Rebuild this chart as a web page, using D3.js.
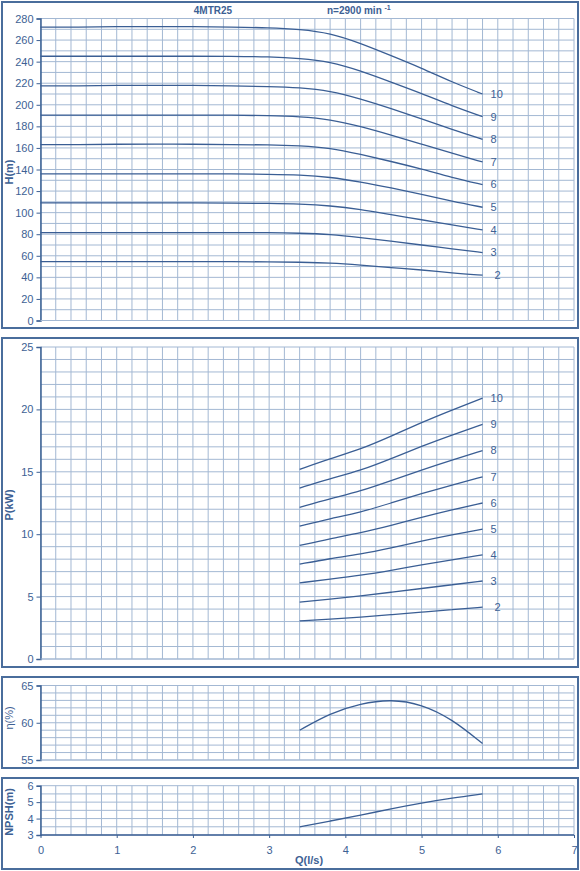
<!DOCTYPE html>
<html>
<head>
<meta charset="utf-8">
<script src="https://d3js.org/d3.v7.min.js"></script>
<style>
  body { margin: 0; background: #fff; }
  svg text { font-family: "Liberation Sans", Arial, sans-serif; fill: #3d6194; }
</style>
</head>
<body>
<div id="chart"></div>
<script>
// ----------------------------
// Data
// ----------------------------
var stages = [10, 9, 8, 7, 6, 5, 4, 3, 2];

// head curves, Q in l/s, H in m
var qHead = [0, 0.5, 1, 1.5, 2, 2.5, 3, 3.4, 3.8, 4.2, 4.6, 5.0, 5.4, 5.8];
var head10 = [272, 272, 272.5, 272.5, 272.5, 272, 271.5, 270, 266.5, 257, 245.5, 234, 221, 210];
var head9 = [245, 245, 245, 245, 245, 245, 244.5, 243, 240, 231.5, 221, 210.5, 199, 189];
var head8 = [217.5, 217.5, 218, 218, 218, 217.5, 217, 216, 213, 205.5, 196.5, 187, 177, 168];
var head7 = [190.5, 190.5, 190.5, 190.5, 190.5, 190.5, 190, 189, 186.5, 180, 172, 163.5, 155, 147];
var head6 = [163, 163, 163.5, 163.5, 163.5, 163, 163, 162, 160, 154, 147.5, 140.5, 132.5, 126];
var head5 = [136, 136, 136, 136, 136, 136, 135.5, 135, 133, 128.5, 123, 117, 110.5, 105];
var head4 = [109, 109, 109, 109, 109, 109, 108.5, 108, 106.5, 103, 98, 93.5, 88.5, 84];
var head3 = [81.5, 81.5, 81.5, 81.5, 81.5, 81.5, 81.5, 81, 80, 77, 73.5, 70, 66.5, 63];
var head2 = [54.5, 54.5, 54.5, 54.5, 54.5, 54.5, 54.5, 54, 53.5, 51.5, 49, 47, 44, 42];

// power, efficiency and NPSH share the working range
var qWork = [3.4, 3.8, 4.2, 4.6, 5.0, 5.4, 5.8];
var power10 = [15.2, 16.05, 16.8, 17.85, 18.95, 19.95, 20.9];
var power9 = [13.7, 14.45, 15.1, 16.05, 17.05, 17.95, 18.8];
var power8 = [12.15, 12.85, 13.45, 14.3, 15.15, 15.95, 16.7];
var power7 = [10.65, 11.25, 11.75, 12.5, 13.25, 13.95, 14.6];
var power6 = [9.1, 9.65, 10.1, 10.7, 11.35, 11.95, 12.5];
var power5 = [7.6, 8.05, 8.4, 8.9, 9.45, 9.95, 10.4];
var power4 = [6.1, 6.4, 6.7, 7.1, 7.55, 7.95, 8.35];
var power3 = [4.55, 4.8, 5.05, 5.35, 5.65, 5.95, 6.25];
var power2 = [3.05, 3.2, 3.35, 3.55, 3.75, 3.95, 4.15];
var efficiency = [59.0, 61.3, 62.6, 63.15, 62.5, 60.5, 57.2];
var npsh = [3.5, 3.85, 4.2, 4.6, 4.95, 5.25, 5.5];

var headCurves = [head10, head9, head8, head7, head6, head5, head4, head3, head2];
var powerCurves = [power10, power9, power8, power7, power6, power5, power4, power3, power2];

var xTicks = [0, 1, 2, 3, 4, 5, 6, 7];

// ----------------------------
// Figure setup
// ----------------------------
var Vis = {};
Vis.width = 580;
Vis.height = 871;
Vis.ink = "#3d6194";
Vis.frame = "#4a6d9c";
Vis.grid = "#a3b8d3";
Vis.curve = "#3a5e94";

Vis.svg = d3.select("#chart").append("svg")
  .attr("width", Vis.width)
  .attr("height", Vis.height);

Vis.x = d3.scaleLinear().domain([0, 7]).range([40.5, 574]);

Vis.panels = [
  { name: "head", box: [2, 2, 576, 326], domain: [0, 280], range: [320.5, 18.5], ticks: d3.range(0, 281, 20), grid: 10, label: "H(m)", bold: true, labelY: 172 },
  { name: "power", box: [2, 338, 576, 329], domain: [0, 25], range: [659, 347], ticks: d3.range(0, 26, 5), grid: 1, label: "P(kW)", bold: true, labelY: 505 },
  { name: "eff", box: [2, 677, 576, 91], domain: [55, 65], range: [760, 685.5], ticks: [55, 60, 65], grid: 1, label: "\u03b7(%)", bold: false, labelY: 718 },
  { name: "npsh", box: [2, 778, 576, 91], domain: [3, 6], range: [835, 785.7], ticks: [3, 4, 5, 6], grid: 0.5, label: "NPSH(m)", bold: true, labelY: 812 }
];

Vis.panels.forEach(function(p) {
  p.y = d3.scaleLinear().domain(p.domain).range(p.range);
  var g = Vis.svg.append("g").attr("class", "panel-" + p.name);
  p.g = g;

  // outer frame
  g.append("rect")
    .attr("x", p.box[0]).attr("y", p.box[1])
    .attr("width", p.box[2]).attr("height", p.box[3])
    .attr("fill", "none")
    .attr("stroke", Vis.frame)
    .attr("stroke-width", 2);

  // vertical grid every 0.2 l/s
  var xs = d3.range(0, 7.001, 0.2);
  g.selectAll("line.vgrid").data(xs).enter().append("line")
    .attr("class", "vgrid")
    .attr("x1", d => Vis.x(d)).attr("x2", d => Vis.x(d))
    .attr("y1", p.y(p.domain[0])).attr("y2", p.y(p.domain[1]))
    .attr("stroke", Vis.grid).attr("stroke-width", 1);

  // horizontal grid
  var ys = d3.range(p.domain[0], p.domain[1] + 0.001, p.grid);
  g.selectAll("line.hgrid").data(ys).enter().append("line")
    .attr("class", "hgrid")
    .attr("x1", Vis.x(0)).attr("x2", Vis.x(7))
    .attr("y1", d => p.y(d)).attr("y2", d => p.y(d))
    .attr("stroke", Vis.grid).attr("stroke-width", 1);

  // left axis
  var axis = g.append("g")
    .attr("transform", `translate(${Vis.x(0)},0)`)
    .call(d3.axisLeft(p.y).tickValues(p.ticks).tickSize(4).tickPadding(3).tickFormat(d3.format("d")));
  axis.select(".domain").attr("stroke", Vis.ink).attr("stroke-width", 1.5);
  axis.selectAll(".tick line").attr("stroke", Vis.ink);
  axis.selectAll(".tick text").attr("font-size", 11).style("fill", Vis.ink);

  // bottom edge of plot area
  g.append("line")
    .attr("x1", Vis.x(0)).attr("x2", Vis.x(7))
    .attr("y1", p.y(p.domain[0])).attr("y2", p.y(p.domain[0]))
    .attr("stroke", p.name == "npsh" ? Vis.ink : Vis.grid)
    .attr("stroke-width", p.name == "npsh" ? 1.5 : 1);

  // axis title
  g.append("text")
    .attr("transform", `translate(13,${p.labelY}) rotate(-90)`)
    .attr("text-anchor", "middle")
    .attr("font-size", 11)
    .attr("font-weight", p.bold ? "bold" : "normal")
    .text(p.label);
});

// ----------------------------
// Curves
// ----------------------------
function drawCurve(p, qs, vals) {
  var line = d3.line()
    .x((d, i) => Vis.x(qs[i]))
    .y(d => p.y(d))
    .curve(d3.curveBasis);
  p.g.append("path")
    .datum(vals)
    .attr("d", line)
    .attr("fill", "none")
    .attr("stroke", Vis.curve)
    .attr("stroke-width", 1.3);
}

function stageLabels(p, qs, curves) {
  p.g.selectAll("text.stage").data(curves).enter().append("text")
    .attr("class", "stage")
    .attr("x", (c, i) => stages[i] == 2 ? Vis.x(qs[qs.length - 1]) + 12 : Vis.x(qs[qs.length - 1]) + 8)
    .attr("y", c => p.y(c[c.length - 1]))
    .attr("dy", "0.35em")
    .attr("font-size", 11)
    .text((c, i) => stages[i]);
}

var headPanel = Vis.panels[0];
var powerPanel = Vis.panels[1];
var effPanel = Vis.panels[2];
var npshPanel = Vis.panels[3];

headCurves.forEach(c => drawCurve(headPanel, qHead, c));
stageLabels(headPanel, qHead, headCurves);

powerCurves.forEach(c => drawCurve(powerPanel, qWork, c));
stageLabels(powerPanel, qWork, powerCurves);

drawCurve(effPanel, qWork, efficiency);
drawCurve(npshPanel, qWork, npsh);

// ----------------------------
// x axis on the bottom panel
// ----------------------------
var xAxis = npshPanel.g.append("g")
  .attr("transform", `translate(0,${npshPanel.y(3)})`)
  .call(d3.axisBottom(Vis.x).tickValues(xTicks).tickSize(3).tickPadding(8).tickFormat(d3.format("d")));
xAxis.select(".domain").remove();
xAxis.selectAll(".tick line").attr("stroke", Vis.ink);
xAxis.selectAll(".tick text").attr("font-size", 11).style("fill", Vis.ink);

Vis.svg.append("text")
  .attr("x", 309).attr("y", 864)
  .attr("text-anchor", "middle")
  .attr("font-size", 11)
  .attr("font-weight", "bold")
  .text("Q(l/s)");

// ----------------------------
// Header
// ----------------------------
Vis.svg.append("text")
  .attr("x", 213).attr("y", 14)
  .attr("text-anchor", "middle")
  .attr("font-size", 10)
  .attr("font-weight", "bold")
  .text("4MTR25");

var speed = Vis.svg.append("text")
  .attr("x", 327).attr("y", 14)
  .attr("font-size", 10)
  .attr("font-weight", "bold");
speed.append("tspan").text("n=2900 min ");
speed.append("tspan").attr("dy", -4).attr("font-size", 7).text("-1");
</script>
</body>
</html>
